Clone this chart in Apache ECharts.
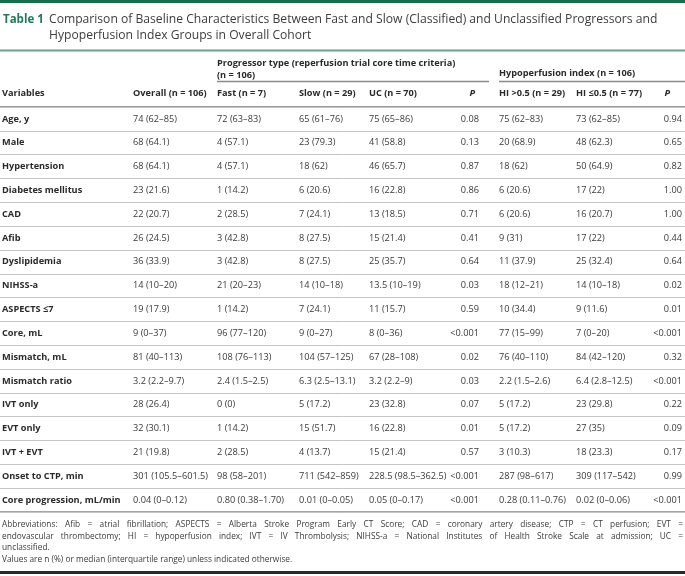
<!DOCTYPE html>
<html><head><meta charset="utf-8">
<script src="https://cdn.jsdelivr.net/npm/echarts@6/dist/echarts.min.js"></script>
<style>html,body{margin:0;padding:0;background:#fff}#c{width:685px;height:576px}</style>
</head><body><div id="c"></div>
<script>
// ---------- DATA ----------
const tableLabel = 'Table 1';
const titleLines = [
  'Comparison of Baseline Characteristics Between Fast and Slow (Classified) and Unclassified Progressors and',
  'Hypoperfusion Index Groups in Overall Cohort'
];
const progressorHeader = ['Progressor type (reperfusion trial core time criteria)', '(n = 106)'];
const hypoHeader = 'Hypoperfusion index (n = 106)';
const columnHeaders = ['Variables', 'Overall (n = 106)', 'Fast (n = 7)', 'Slow (n = 29)', 'UC (n = 70)', 'P', 'HI >0.5 (n = 29)', 'HI \u22640.5 (n = 77)', 'P'];
const variables = ['Age, y', 'Male', 'Hypertension', 'Diabetes mellitus', 'CAD', 'Afib', 'Dyslipidemia', 'NIHSS-a', 'ASPECTS \u22647', 'Core, mL', 'Mismatch, mL', 'Mismatch ratio', 'IVT only', 'EVT only', 'IVT + EVT', 'Onset to CTP, min', 'Core progression, mL/min'];
const overall = ['74 (62\u201385)', '68 (64.1)', '68 (64.1)', '23 (21.6)', '22 (20.7)', '26 (24.5)', '36 (33.9)', '14 (10\u201320)', '19 (17.9)', '9 (0\u201337)', '81 (40\u2013113)', '3.2 (2.2\u20139.7)', '28 (26.4)', '32 (30.1)', '21 (19.8)', '301 (105.5\u2013601.5)', '0.04 (0\u20130.12)'];
const fast = ['72 (63\u201383)', '4 (57.1)', '4 (57.1)', '1 (14.2)', '2 (28.5)', '3 (42.8)', '3 (42.8)', '21 (20\u201323)', '1 (14.2)', '96 (77\u2013120)', '108 (76\u2013113)', '2.4 (1.5\u20132.5)', '0 (0)', '1 (14.2)', '2 (28.5)', '98 (58\u2013201)', '0.80 (0.38\u20131.70)'];
const slow = ['65 (61\u201376)', '23 (79.3)', '18 (62)', '6 (20.6)', '7 (24.1)', '8 (27.5)', '8 (27.5)', '14 (10\u201318)', '7 (24.1)', '9 (0\u201327)', '104 (57\u2013125)', '6.3 (2.5\u201313.1)', '5 (17.2)', '15 (51.7)', '4 (13.7)', '711 (542\u2013859)', '0.01 (0\u20130.05)'];
const uc = ['75 (65\u201386)', '41 (58.8)', '46 (65.7)', '16 (22.8)', '13 (18.5)', '15 (21.4)', '25 (35.7)', '13.5 (10\u201319)', '11 (15.7)', '8 (0\u201336)', '67 (28\u2013108)', '3.2 (2.2\u20139)', '23 (32.8)', '16 (22.8)', '15 (21.4)', '228.5 (98.5\u2013362.5)', '0.05 (0\u20130.17)'];
const pProgressor = ['0.08', '0.13', '0.87', '0.86', '0.71', '0.41', '0.64', '0.03', '0.59', '<0.001', '0.02', '0.03', '0.07', '0.01', '0.57', '<0.001', '<0.001'];
const hiHigh = ['75 (62\u201383)', '20 (68.9)', '18 (62)', '6 (20.6)', '6 (20.6)', '9 (31)', '11 (37.9)', '18 (12\u201321)', '10 (34.4)', '77 (15\u201399)', '76 (40\u2013110)', '2.2 (1.5\u20132.6)', '5 (17.2)', '5 (17.2)', '3 (10.3)', '287 (98\u2013617)', '0.28 (0.11\u20130.76)'];
const hiLow = ['73 (62\u201385)', '48 (62.3)', '50 (64.9)', '17 (22)', '16 (20.7)', '17 (22)', '25 (32.4)', '14 (10\u201318)', '9 (11.6)', '7 (0\u201320)', '84 (42\u2013120)', '6.4 (2.8\u201312.5)', '23 (29.8)', '27 (35)', '18 (23.3)', '309 (117\u2013542)', '0.02 (0\u20130.06)'];
const pHI = ['0.94', '0.65', '0.82', '1.00', '1.00', '0.44', '0.64', '0.02', '0.01', '<0.001', '0.32', '<0.001', '0.22', '0.09', '0.17', '0.99', '<0.001'];
const footnoteJustified = [
  'Abbreviations: Afib = atrial fibrillation; ASPECTS = Alberta Stroke Program Early CT Score; CAD = coronary artery disease; CTP = CT perfusion; EVT =',
  'endovascular thrombectomy; HI = hypoperfusion index; IVT = IV Thrombolysis; NIHSS-a = National Institutes of Health Stroke Scale at admission; UC ='
];
const footnotePlain = ['unclassified.', 'Values are n (%) or median (interquartile range) unless indicated otherwise.'];

// ---------- LAYOUT ----------
const W = 685, H = 576;
const FONT = '"Open Sans", "DejaVu Sans", sans-serif';
const bodySize = 9.2;
const columnsData = [variables, overall, fast, slow, uc, pProgressor, hiHigh, hiLow, pHI];
const colX = [2, 133, 217, 299, 369, 479, 499, 576, 682];
const colAlign = ['left', 'left', 'left', 'left', 'left', 'right', 'left', 'left', 'right'];
const headerX = [2, 133, 217, 299, 369, 475, 499, 576, 670];
const bodyTop = 107, bodyBottom = 512;

const canvas = document.createElement('canvas');
const ctx = canvas.getContext('2d');
function measure(text, size, weight) {
  ctx.font = (weight || 'normal') + ' ' + size + 'px ' + FONT;
  return ctx.measureText(text).width;
}

const graphics = [];
// top band
graphics.push({type: 'rect', shape: {x: 0, y: 0, width: W, height: 3}, style: {fill: '#1d6b4f'}});
// title
graphics.push({type: 'text', x: 3, y: 20, style: {text: tableLabel, font: 'bold 11.5px ' + FONT, fill: '#1f7a56', verticalAlign: 'middle'}});
const titleTarget = 658 - 49;
const titleSize = 12 * titleTarget / measure(titleLines[0], 12, 'normal');
titleLines.forEach((t, i) => {
  graphics.push({type: 'text', x: 49, y: 20 + i * 16, style: {text: t, font: 'normal ' + titleSize.toFixed(2) + 'px ' + FONT, fill: '#3d3d3d', verticalAlign: 'middle'}});
});
graphics.push({type: 'rect', shape: {x: 0, y: 49.5, width: W, height: 2}, style: {fill: '#64a487'}});
// group headers
progressorHeader.forEach((t, i) => {
  graphics.push({type: 'text', x: 217, y: 63 + i * 12, style: {text: t, font: 'bold ' + bodySize + 'px ' + FONT, fill: '#2a2a2a', verticalAlign: 'middle'}});
});
graphics.push({type: 'text', x: 499, y: 73, style: {text: hypoHeader, font: 'bold ' + bodySize + 'px ' + FONT, fill: '#2a2a2a', verticalAlign: 'middle'}});
graphics.push({type: 'line', shape: {x1: 217, y1: 81.5, x2: 489, y2: 81.5}, style: {stroke: '#8c8c8c', lineWidth: 1.5}});
graphics.push({type: 'line', shape: {x1: 499, y1: 81.5, x2: W, y2: 81.5}, style: {stroke: '#8c8c8c', lineWidth: 1.5}});
// column headers
columnHeaders.forEach((t, i) => {
  const isP = t === 'P';
  graphics.push({type: 'text', x: headerX[i], y: 93, style: {text: t, font: (isP ? 'italic ' : '') + 'bold ' + bodySize + 'px ' + FONT, fill: '#2a2a2a', align: isP ? 'right' : 'left', verticalAlign: 'middle'}});
});
// heavy rules
graphics.push({type: 'rect', shape: {x: 0, y: bodyTop - 1, width: W, height: 2}, style: {fill: '#9a9a9a'}});
graphics.push({type: 'rect', shape: {x: 0, y: bodyBottom - 1, width: W, height: 2}, style: {fill: '#a5a5a5'}});
graphics.push({type: 'rect', shape: {x: 0, y: 571, width: W, height: 3}, style: {fill: '#2b2b2b'}});
// footnotes
const footSize = 8.3;
const footY = [525, 536.5, 548, 559.5];
footnoteJustified.forEach((line, li) => {
  const words = line.split(' ');
  const widths = words.map(w => measure(w, footSize, 'normal'));
  const total = widths.reduce((a, b) => a + b, 0);
  const gap = (681 - total) / (words.length - 1);
  let x = 2;
  words.forEach((w, wi) => {
    graphics.push({type: 'text', x: x, y: footY[li], style: {text: w, font: footSize + 'px ' + FONT, fill: '#3a3a3a', verticalAlign: 'middle'}});
    x += widths[wi] + gap;
  });
});
footnotePlain.forEach((line, li) => {
  graphics.push({type: 'text', x: 2, y: footY[2 + li], style: {text: line, font: footSize + 'px ' + FONT, fill: '#3a3a3a', verticalAlign: 'middle'}});
});

// cells
const cellData = [];
variables.forEach((v, r) => { columnsData.forEach((c, ci) => cellData.push([ci, r])); });

const chart = echarts.init(document.getElementById('c'), null, {renderer: 'canvas'});
chart.setOption({
  animation: false,
  backgroundColor: '#fff',
  grid: {left: 0, right: 0, top: bodyTop, bottom: H - bodyBottom, containLabel: false},
  xAxis: {type: 'value', min: 0, max: W, show: false},
  yAxis: {
    type: 'category', data: variables, inverse: true,
    axisLine: {show: false}, axisTick: {show: false}, axisLabel: {show: false},
    splitLine: {show: true, lineStyle: {color: '#c4c4c4', width: 1}}
  },
  graphic: graphics,
  series: [{
    type: 'custom',
    clip: false,
    data: cellData,
    renderItem: function (params, api) {
      const ci = api.value(0), r = api.value(1);
      const pt = api.coord([colX[ci], r]);
      const isLabel = ci === 0;
      return {
        type: 'text', x: pt[0], y: pt[1],
        style: {
          text: columnsData[ci][r],
          font: (isLabel ? 'bold ' : 'normal ') + bodySize + 'px ' + FONT,
          fill: isLabel ? '#2a2a2a' : '#3a3a3a',
          align: colAlign[ci], verticalAlign: 'middle'
        }
      };
    }
  }]
});
</script></body></html>
